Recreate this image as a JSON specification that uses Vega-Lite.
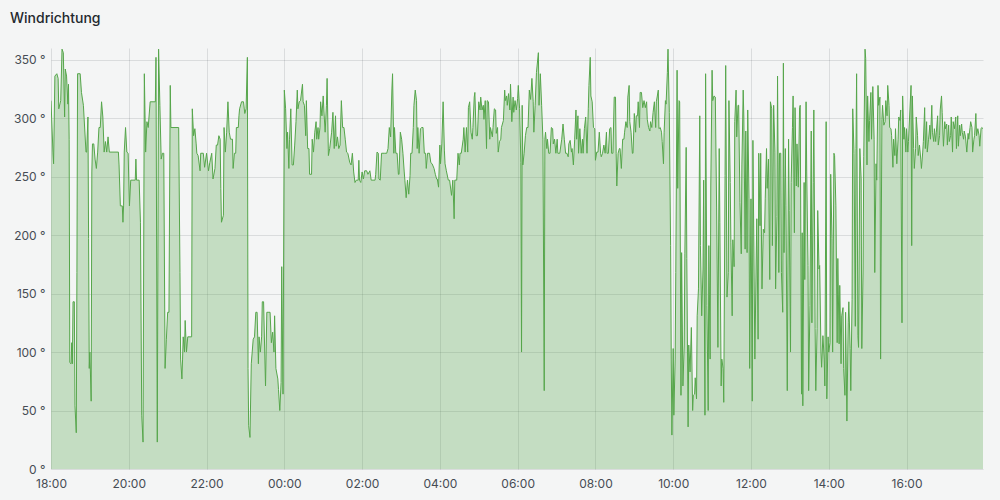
{
"$schema": "https://vega.github.io/schema/vega-lite/v6.json",
"width": 932, "height": 421,
"autosize": {"type": "none"},
"padding": {"left": 51, "top": 48, "right": 17, "bottom": 31},
"background": "#f4f5f5",
"title": {"text": "Windrichtung", "anchor": "start", "frame": "group", "dx": -41, "offset": 11, "baseline": "alphabetic", "fontSize": 14, "fontWeight": 500, "font": "Inter", "color": "#24292e"},
"config": {"view": {"stroke": null}, "font": "Inter",
  "axis": {"labelFont": "Inter", "labelFontSize": 12, "labelColor": "#464c54", "gridColor": "#24292e", "gridOpacity": 0.12, "ticks": false, "domain": false, "title": null}},
"data": {"format": {"parse": {"t": "utc:'%d %H:%M'"}}, "values": [
{"t":"1 18:00","v":315},{"t":"1 18:03","v":271},{"t":"1 18:04","v":261},{"t":"1 18:06","v":336},{"t":"1 18:09","v":338},{"t":"1 18:11","v":334},{"t":"1 18:12","v":308},{"t":"1 18:15","v":315},{"t":"1 18:17","v":359},{"t":"1 18:19","v":356},{"t":"1 18:21","v":301},{"t":"1 18:22","v":342},{"t":"1 18:24","v":336},{"t":"1 18:26","v":312},{"t":"1 18:27","v":329},{"t":"1 18:28","v":282},{"t":"1 18:29","v":91},{"t":"1 18:31","v":90},{"t":"1 18:32","v":108},{"t":"1 18:33","v":90},{"t":"1 18:34","v":143},{"t":"1 18:36","v":143},{"t":"1 18:37","v":54},{"t":"1 18:39","v":31},{"t":"1 18:40","v":168},{"t":"1 18:41","v":338},{"t":"1 18:45","v":338},{"t":"1 18:47","v":322},{"t":"1 18:50","v":311},{"t":"1 18:54","v":271},{"t":"1 18:55","v":271},{"t":"1 18:57","v":301},{"t":"1 18:58","v":197},{"t":"1 18:59","v":86},
{"t":"1 19:00","v":100},{"t":"1 19:02","v":58},{"t":"1 19:03","v":254},{"t":"1 19:04","v":278},{"t":"1 19:06","v":278},{"t":"1 19:08","v":265},{"t":"1 19:10","v":257},{"t":"1 19:12","v":271},{"t":"1 19:14","v":292},{"t":"1 19:16","v":292},{"t":"1 19:18","v":314},{"t":"1 19:20","v":301},{"t":"1 19:22","v":271},{"t":"1 19:24","v":280},{"t":"1 19:26","v":271},{"t":"1 19:28","v":284},{"t":"1 19:30","v":271},{"t":"1 19:44","v":271},{"t":"1 19:45","v":260},{"t":"1 19:47","v":225},{"t":"1 19:50","v":225},{"t":"1 19:51","v":211},{"t":"1 19:52","v":225},{"t":"1 19:53","v":271},{"t":"1 19:55","v":292},{"t":"1 19:57","v":271},{"t":"1 19:59","v":270},
{"t":"1 20:01","v":225},{"t":"1 20:03","v":247},{"t":"1 20:10","v":247},{"t":"1 20:11","v":265},{"t":"1 20:12","v":247},{"t":"1 20:16","v":247},{"t":"1 20:18","v":211},{"t":"1 20:20","v":46},{"t":"1 20:22","v":23},{"t":"1 20:24","v":338},{"t":"1 20:26","v":271},{"t":"1 20:28","v":297},{"t":"1 20:30","v":292},{"t":"1 20:33","v":314},{"t":"1 20:41","v":314},{"t":"1 20:42","v":352},{"t":"1 20:44","v":23},{"t":"1 20:46","v":359},{"t":"1 20:48","v":311},{"t":"1 20:50","v":265},{"t":"1 20:52","v":270},{"t":"1 20:54","v":270},{"t":"1 20:56","v":86},{"t":"1 20:58","v":111},
{"t":"1 21:00","v":134},{"t":"1 21:02","v":134},{"t":"1 21:04","v":328},{"t":"1 21:05","v":292},{"t":"1 21:17","v":292},{"t":"1 21:19","v":168},{"t":"1 21:20","v":94},{"t":"1 21:22","v":77},{"t":"1 21:23","v":94},{"t":"1 21:24","v":113},{"t":"1 21:26","v":100},{"t":"1 21:27","v":127},{"t":"1 21:29","v":100},{"t":"1 21:31","v":113},{"t":"1 21:37","v":113},{"t":"1 21:38","v":308},{"t":"1 21:40","v":285},{"t":"1 21:42","v":291},{"t":"1 21:44","v":278},{"t":"1 21:45","v":270},{"t":"1 21:47","v":268},{"t":"1 21:50","v":255},{"t":"1 21:51","v":270},{"t":"1 21:55","v":270},{"t":"1 21:57","v":258},
{"t":"1 22:00","v":270},{"t":"1 22:03","v":255},{"t":"1 22:05","v":262},{"t":"1 22:08","v":270},{"t":"1 22:10","v":248},{"t":"1 22:13","v":257},{"t":"1 22:15","v":277},{"t":"1 22:17","v":277},{"t":"1 22:19","v":285},{"t":"1 22:21","v":282},{"t":"1 22:22","v":240},{"t":"1 22:23","v":211},{"t":"1 22:26","v":217},{"t":"1 22:27","v":292},{"t":"1 22:29","v":271},{"t":"1 22:31","v":288},{"t":"1 22:33","v":314},{"t":"1 22:35","v":288},{"t":"1 22:37","v":282},{"t":"1 22:40","v":282},{"t":"1 22:41","v":257},{"t":"1 22:43","v":270},{"t":"1 22:45","v":270},{"t":"1 22:46","v":292},{"t":"1 22:49","v":292},{"t":"1 22:50","v":302},{"t":"1 22:51","v":308},{"t":"1 22:54","v":314},{"t":"1 22:57","v":314},{"t":"1 22:59","v":304},
{"t":"1 23:01","v":308},{"t":"1 23:03","v":352},{"t":"1 23:04","v":86},{"t":"1 23:05","v":37},{"t":"1 23:07","v":27},{"t":"1 23:09","v":90},{"t":"1 23:12","v":111},{"t":"1 23:14","v":113},{"t":"1 23:16","v":134},{"t":"1 23:18","v":134},{"t":"1 23:20","v":90},{"t":"1 23:21","v":113},{"t":"1 23:23","v":100},{"t":"1 23:25","v":113},{"t":"1 23:26","v":143},{"t":"1 23:28","v":143},{"t":"1 23:31","v":71},{"t":"1 23:33","v":134},{"t":"1 23:35","v":134},{"t":"1 23:38","v":134},{"t":"1 23:40","v":108},{"t":"1 23:42","v":117},{"t":"1 23:44","v":100},{"t":"1 23:45","v":131},{"t":"1 23:47","v":86},{"t":"1 23:50","v":77},{"t":"1 23:51","v":68},{"t":"1 23:53","v":50},{"t":"1 23:55","v":74},{"t":"1 23:56","v":173},{"t":"1 23:58","v":64},
{"t":"2 00:00","v":324},{"t":"2 00:02","v":308},{"t":"2 00:04","v":274},{"t":"2 00:05","v":288},{"t":"2 00:07","v":257},{"t":"2 00:08","v":282},{"t":"2 00:10","v":308},{"t":"2 00:12","v":260},{"t":"2 00:14","v":260},{"t":"2 00:16","v":277},{"t":"2 00:18","v":297},{"t":"2 00:20","v":324},{"t":"2 00:21","v":308},{"t":"2 00:23","v":314},{"t":"2 00:25","v":315},{"t":"2 00:28","v":329},{"t":"2 00:29","v":314},{"t":"2 00:31","v":311},{"t":"2 00:33","v":285},{"t":"2 00:34","v":315},{"t":"2 00:36","v":274},{"t":"2 00:38","v":274},{"t":"2 00:39","v":252},{"t":"2 00:42","v":252},{"t":"2 00:43","v":282},{"t":"2 00:45","v":271},{"t":"2 00:47","v":288},{"t":"2 00:49","v":297},{"t":"2 00:50","v":282},{"t":"2 00:52","v":292},{"t":"2 00:53","v":282},{"t":"2 00:55","v":292},{"t":"2 00:56","v":314},{"t":"2 00:58","v":302},
{"t":"2 01:00","v":319},{"t":"2 01:01","v":307},{"t":"2 01:03","v":288},{"t":"2 01:05","v":311},{"t":"2 01:06","v":334},{"t":"2 01:08","v":268},{"t":"2 01:10","v":274},{"t":"2 01:13","v":288},{"t":"2 01:15","v":305},{"t":"2 01:17","v":274},{"t":"2 01:19","v":302},{"t":"2 01:20","v":276},{"t":"2 01:22","v":284},{"t":"2 01:24","v":274},{"t":"2 01:26","v":277},{"t":"2 01:28","v":315},{"t":"2 01:30","v":292},{"t":"2 01:32","v":292},{"t":"2 01:34","v":282},{"t":"2 01:36","v":271},{"t":"2 01:38","v":270},{"t":"2 01:41","v":262},{"t":"2 01:43","v":260},{"t":"2 01:45","v":270},{"t":"2 01:47","v":254},{"t":"2 01:49","v":245},{"t":"2 01:51","v":247},{"t":"2 01:54","v":247},{"t":"2 01:55","v":264},{"t":"2 01:56","v":247},{"t":"2 01:58","v":245},
{"t":"2 02:00","v":254},{"t":"2 02:02","v":248},{"t":"2 02:04","v":255},{"t":"2 02:07","v":255},{"t":"2 02:09","v":252},{"t":"2 02:12","v":255},{"t":"2 02:14","v":247},{"t":"2 02:20","v":247},{"t":"2 02:21","v":252},{"t":"2 02:23","v":271},{"t":"2 02:25","v":270},{"t":"2 02:26","v":248},{"t":"2 02:28","v":247},{"t":"2 02:30","v":270},{"t":"2 02:35","v":270},{"t":"2 02:38","v":270},{"t":"2 02:40","v":274},{"t":"2 02:42","v":292},{"t":"2 02:44","v":284},{"t":"2 02:46","v":325},{"t":"2 02:47","v":338},{"t":"2 02:49","v":270},{"t":"2 02:50","v":292},{"t":"2 02:52","v":270},{"t":"2 02:54","v":270},{"t":"2 02:56","v":252},{"t":"2 02:57","v":252},{"t":"2 02:59","v":288},
{"t":"2 03:01","v":282},{"t":"2 03:03","v":270},{"t":"2 03:05","v":254},{"t":"2 03:06","v":247},{"t":"2 03:08","v":232},{"t":"2 03:10","v":247},{"t":"2 03:12","v":235},{"t":"2 03:14","v":251},{"t":"2 03:15","v":270},{"t":"2 03:17","v":270},{"t":"2 03:19","v":292},{"t":"2 03:20","v":311},{"t":"2 03:22","v":324},{"t":"2 03:24","v":315},{"t":"2 03:25","v":274},{"t":"2 03:26","v":292},{"t":"2 03:28","v":270},{"t":"2 03:30","v":291},{"t":"2 03:32","v":292},{"t":"2 03:34","v":292},{"t":"2 03:36","v":270},{"t":"2 03:38","v":270},{"t":"2 03:39","v":257},{"t":"2 03:41","v":270},{"t":"2 03:44","v":270},{"t":"2 03:46","v":262},{"t":"2 03:48","v":261},{"t":"2 03:51","v":257},{"t":"2 03:53","v":252},{"t":"2 03:55","v":248},{"t":"2 03:56","v":248},{"t":"2 03:58","v":241},
{"t":"2 04:00","v":277},{"t":"2 04:01","v":261},{"t":"2 04:03","v":278},{"t":"2 04:05","v":314},{"t":"2 04:07","v":272},{"t":"2 04:08","v":261},{"t":"2 04:10","v":255},{"t":"2 04:13","v":247},{"t":"2 04:15","v":247},{"t":"2 04:18","v":234},{"t":"2 04:20","v":247},{"t":"2 04:22","v":214},{"t":"2 04:23","v":247},{"t":"2 04:26","v":247},{"t":"2 04:28","v":270},{"t":"2 04:30","v":260},{"t":"2 04:31","v":270},{"t":"2 04:33","v":270},{"t":"2 04:36","v":282},{"t":"2 04:37","v":292},{"t":"2 04:39","v":271},{"t":"2 04:41","v":292},{"t":"2 04:43","v":271},{"t":"2 04:44","v":309},{"t":"2 04:46","v":314},{"t":"2 04:48","v":288},{"t":"2 04:50","v":282},{"t":"2 04:51","v":292},{"t":"2 04:53","v":318},{"t":"2 04:54","v":322},{"t":"2 04:56","v":285},{"t":"2 04:58","v":285},
{"t":"2 05:00","v":314},{"t":"2 05:02","v":307},{"t":"2 05:03","v":318},{"t":"2 05:05","v":307},{"t":"2 05:07","v":311},{"t":"2 05:08","v":299},{"t":"2 05:10","v":315},{"t":"2 05:12","v":274},{"t":"2 05:13","v":315},{"t":"2 05:15","v":314},{"t":"2 05:17","v":282},{"t":"2 05:18","v":292},{"t":"2 05:21","v":284},{"t":"2 05:22","v":292},{"t":"2 05:24","v":308},{"t":"2 05:26","v":307},{"t":"2 05:27","v":287},{"t":"2 05:29","v":292},{"t":"2 05:30","v":271},{"t":"2 05:32","v":280},{"t":"2 05:34","v":282},{"t":"2 05:35","v":292},{"t":"2 05:38","v":298},{"t":"2 05:40","v":324},{"t":"2 05:41","v":315},{"t":"2 05:43","v":319},{"t":"2 05:44","v":311},{"t":"2 05:46","v":321},{"t":"2 05:48","v":307},{"t":"2 05:49","v":329},{"t":"2 05:51","v":297},{"t":"2 05:53","v":318},{"t":"2 05:54","v":305},{"t":"2 05:56","v":315},{"t":"2 05:58","v":307},
{"t":"2 06:00","v":317},{"t":"2 06:01","v":328},{"t":"2 06:03","v":308},{"t":"2 06:05","v":262},{"t":"2 06:06","v":100},{"t":"2 06:07","v":311},{"t":"2 06:08","v":260},{"t":"2 06:10","v":270},{"t":"2 06:12","v":285},{"t":"2 06:14","v":292},{"t":"2 06:16","v":292},{"t":"2 06:18","v":324},{"t":"2 06:20","v":316},{"t":"2 06:22","v":334},{"t":"2 06:24","v":314},{"t":"2 06:25","v":288},{"t":"2 06:27","v":311},{"t":"2 06:29","v":339},{"t":"2 06:32","v":356},{"t":"2 06:33","v":311},{"t":"2 06:35","v":338},{"t":"2 06:37","v":311},{"t":"2 06:39","v":282},{"t":"2 06:41","v":67},{"t":"2 06:42","v":282},{"t":"2 06:43","v":288},{"t":"2 06:45","v":274},{"t":"2 06:46","v":282},{"t":"2 06:48","v":270},{"t":"2 06:50","v":270},{"t":"2 06:52","v":292},{"t":"2 06:54","v":291},{"t":"2 06:55","v":278},{"t":"2 06:57","v":282},{"t":"2 06:59","v":270},
{"t":"2 07:01","v":282},{"t":"2 07:02","v":270},{"t":"2 07:05","v":270},{"t":"2 07:08","v":282},{"t":"2 07:10","v":295},{"t":"2 07:12","v":282},{"t":"2 07:14","v":270},{"t":"2 07:16","v":270},{"t":"2 07:18","v":267},{"t":"2 07:19","v":278},{"t":"2 07:21","v":281},{"t":"2 07:23","v":271},{"t":"2 07:24","v":274},{"t":"2 07:26","v":260},{"t":"2 07:28","v":282},{"t":"2 07:30","v":307},{"t":"2 07:31","v":282},{"t":"2 07:33","v":302},{"t":"2 07:34","v":270},{"t":"2 07:36","v":291},{"t":"2 07:38","v":270},{"t":"2 07:40","v":282},{"t":"2 07:41","v":270},{"t":"2 07:43","v":291},{"t":"2 07:45","v":301},{"t":"2 07:47","v":270},{"t":"2 07:49","v":308},{"t":"2 07:50","v":328},{"t":"2 07:52","v":352},{"t":"2 07:53","v":319},{"t":"2 07:55","v":314},{"t":"2 07:57","v":292},{"t":"2 07:59","v":291},
{"t":"2 08:00","v":264},{"t":"2 08:02","v":271},{"t":"2 08:04","v":271},{"t":"2 08:06","v":288},{"t":"2 08:08","v":270},{"t":"2 08:09","v":267},{"t":"2 08:11","v":270},{"t":"2 08:13","v":277},{"t":"2 08:15","v":270},{"t":"2 08:17","v":288},{"t":"2 08:18","v":270},{"t":"2 08:20","v":270},{"t":"2 08:22","v":291},{"t":"2 08:24","v":292},{"t":"2 08:25","v":270},{"t":"2 08:27","v":270},{"t":"2 08:29","v":318},{"t":"2 08:31","v":318},{"t":"2 08:32","v":270},{"t":"2 08:33","v":242},{"t":"2 08:35","v":270},{"t":"2 08:37","v":274},{"t":"2 08:38","v":274},{"t":"2 08:40","v":257},{"t":"2 08:42","v":282},{"t":"2 08:44","v":282},{"t":"2 08:45","v":288},{"t":"2 08:47","v":297},{"t":"2 08:49","v":292},{"t":"2 08:50","v":318},{"t":"2 08:52","v":328},{"t":"2 08:53","v":297},{"t":"2 08:55","v":288},{"t":"2 08:57","v":270},{"t":"2 08:58","v":270},
{"t":"2 09:00","v":304},{"t":"2 09:02","v":288},{"t":"2 09:03","v":302},{"t":"2 09:05","v":302},{"t":"2 09:06","v":314},{"t":"2 09:08","v":292},{"t":"2 09:09","v":322},{"t":"2 09:11","v":322},{"t":"2 09:13","v":309},{"t":"2 09:15","v":315},{"t":"2 09:17","v":309},{"t":"2 09:19","v":314},{"t":"2 09:20","v":299},{"t":"2 09:22","v":292},{"t":"2 09:24","v":289},{"t":"2 09:25","v":297},{"t":"2 09:27","v":292},{"t":"2 09:29","v":305},{"t":"2 09:31","v":314},{"t":"2 09:33","v":292},{"t":"2 09:34","v":314},{"t":"2 09:37","v":324},{"t":"2 09:38","v":291},{"t":"2 09:40","v":292},{"t":"2 09:42","v":288},{"t":"2 09:43","v":280},{"t":"2 09:45","v":261},{"t":"2 09:46","v":288},{"t":"2 09:48","v":315},{"t":"2 09:49","v":312},{"t":"2 09:51","v":339},{"t":"2 09:52","v":359},{"t":"2 09:54","v":305},{"t":"2 09:56","v":191},{"t":"2 09:57","v":94},{"t":"2 09:58","v":29},
{"t":"2 10:00","v":103},{"t":"2 10:01","v":46},{"t":"2 10:03","v":94},{"t":"2 10:04","v":168},{"t":"2 10:06","v":341},{"t":"2 10:07","v":240},{"t":"2 10:09","v":315},{"t":"2 10:10","v":314},{"t":"2 10:12","v":63},{"t":"2 10:13","v":185},{"t":"2 10:15","v":71},{"t":"2 10:17","v":106},{"t":"2 10:18","v":184},{"t":"2 10:20","v":275},{"t":"2 10:21","v":180},{"t":"2 10:23","v":36},{"t":"2 10:24","v":106},{"t":"2 10:26","v":83},{"t":"2 10:28","v":121},{"t":"2 10:30","v":50},{"t":"2 10:31","v":63},{"t":"2 10:33","v":64},{"t":"2 10:34","v":78},{"t":"2 10:36","v":60},{"t":"2 10:37","v":131},{"t":"2 10:39","v":154},{"t":"2 10:41","v":302},{"t":"2 10:42","v":191},{"t":"2 10:44","v":131},{"t":"2 10:46","v":171},{"t":"2 10:47","v":247},{"t":"2 10:49","v":46},{"t":"2 10:50","v":338},{"t":"2 10:52","v":140},{"t":"2 10:54","v":50},{"t":"2 10:55","v":191},{"t":"2 10:57","v":94},{"t":"2 10:58","v":242},
{"t":"2 11:00","v":341},{"t":"2 11:01","v":315},{"t":"2 11:03","v":319},{"t":"2 11:05","v":318},{"t":"2 11:07","v":224},{"t":"2 11:09","v":104},{"t":"2 11:11","v":274},{"t":"2 11:12","v":211},{"t":"2 11:14","v":71},{"t":"2 11:15","v":94},{"t":"2 11:17","v":86},{"t":"2 11:18","v":57},{"t":"2 11:20","v":251},{"t":"2 11:21","v":345},{"t":"2 11:23","v":147},{"t":"2 11:25","v":168},{"t":"2 11:26","v":315},{"t":"2 11:28","v":245},{"t":"2 11:29","v":194},{"t":"2 11:31","v":131},{"t":"2 11:32","v":196},{"t":"2 11:34","v":173},{"t":"2 11:35","v":297},{"t":"2 11:37","v":324},{"t":"2 11:38","v":284},{"t":"2 11:40","v":311},{"t":"2 11:41","v":311},{"t":"2 11:43","v":228},{"t":"2 11:45","v":184},{"t":"2 11:46","v":260},{"t":"2 11:48","v":324},{"t":"2 11:49","v":301},{"t":"2 11:51","v":188},{"t":"2 11:52","v":289},{"t":"2 11:54","v":185},{"t":"2 11:55","v":307},{"t":"2 11:57","v":231},{"t":"2 11:58","v":86},
{"t":"2 12:00","v":231},{"t":"2 12:02","v":58},{"t":"2 12:03","v":281},{"t":"2 12:06","v":94},{"t":"2 12:08","v":177},{"t":"2 12:09","v":214},{"t":"2 12:11","v":111},{"t":"2 12:12","v":270},{"t":"2 12:14","v":208},{"t":"2 12:15","v":270},{"t":"2 12:17","v":154},{"t":"2 12:19","v":205},{"t":"2 12:21","v":202},{"t":"2 12:22","v":231},{"t":"2 12:24","v":274},{"t":"2 12:25","v":240},{"t":"2 12:27","v":265},{"t":"2 12:29","v":162},{"t":"2 12:30","v":314},{"t":"2 12:32","v":308},{"t":"2 12:33","v":191},{"t":"2 12:35","v":311},{"t":"2 12:37","v":271},{"t":"2 12:38","v":154},{"t":"2 12:40","v":216},{"t":"2 12:41","v":336},{"t":"2 12:43","v":168},{"t":"2 12:44","v":270},{"t":"2 12:46","v":270},{"t":"2 12:47","v":168},{"t":"2 12:49","v":134},{"t":"2 12:50","v":347},{"t":"2 12:51","v":185},{"t":"2 12:53","v":274},{"t":"2 12:54","v":225},{"t":"2 12:56","v":67},{"t":"2 12:58","v":282},{"t":"2 12:59","v":221},
{"t":"2 13:01","v":100},{"t":"2 13:02","v":245},{"t":"2 13:04","v":292},{"t":"2 13:05","v":319},{"t":"2 13:07","v":202},{"t":"2 13:08","v":309},{"t":"2 13:10","v":242},{"t":"2 13:11","v":278},{"t":"2 13:13","v":241},{"t":"2 13:15","v":309},{"t":"2 13:16","v":311},{"t":"2 13:18","v":64},{"t":"2 13:19","v":202},{"t":"2 13:20","v":54},{"t":"2 13:22","v":245},{"t":"2 13:23","v":162},{"t":"2 13:25","v":314},{"t":"2 13:26","v":254},{"t":"2 13:28","v":174},{"t":"2 13:29","v":67},{"t":"2 13:31","v":140},{"t":"2 13:33","v":289},{"t":"2 13:34","v":125},{"t":"2 13:36","v":245},{"t":"2 13:37","v":307},{"t":"2 13:39","v":120},{"t":"2 13:40","v":67},{"t":"2 13:42","v":120},{"t":"2 13:43","v":221},{"t":"2 13:45","v":171},{"t":"2 13:46","v":174},{"t":"2 13:48","v":100},{"t":"2 13:49","v":87},{"t":"2 13:51","v":114},{"t":"2 13:53","v":94},{"t":"2 13:54","v":71},{"t":"2 13:56","v":297},{"t":"2 13:57","v":60},{"t":"2 13:59","v":113},
{"t":"2 14:00","v":100},{"t":"2 14:02","v":108},{"t":"2 14:03","v":252},{"t":"2 14:05","v":197},{"t":"2 14:06","v":100},{"t":"2 14:08","v":270},{"t":"2 14:09","v":268},{"t":"2 14:11","v":225},{"t":"2 14:13","v":108},{"t":"2 14:14","v":180},{"t":"2 14:16","v":107},{"t":"2 14:17","v":157},{"t":"2 14:19","v":90},{"t":"2 14:20","v":131},{"t":"2 14:22","v":138},{"t":"2 14:23","v":86},{"t":"2 14:25","v":63},{"t":"2 14:26","v":134},{"t":"2 14:28","v":41},{"t":"2 14:30","v":125},{"t":"2 14:31","v":143},{"t":"2 14:33","v":103},{"t":"2 14:34","v":67},{"t":"2 14:36","v":145},{"t":"2 14:37","v":308},{"t":"2 14:39","v":270},{"t":"2 14:41","v":122},{"t":"2 14:42","v":274},{"t":"2 14:43","v":338},{"t":"2 14:45","v":114},{"t":"2 14:46","v":104},{"t":"2 14:48","v":274},{"t":"2 14:50","v":248},{"t":"2 14:51","v":103},{"t":"2 14:53","v":171},{"t":"2 14:54","v":267},{"t":"2 14:56","v":359},{"t":"2 14:57","v":351},{"t":"2 14:59","v":260},
{"t":"2 15:00","v":319},{"t":"2 15:02","v":280},{"t":"2 15:03","v":298},{"t":"2 15:05","v":322},{"t":"2 15:06","v":282},{"t":"2 15:08","v":327},{"t":"2 15:10","v":282},{"t":"2 15:11","v":168},{"t":"2 15:13","v":261},{"t":"2 15:14","v":247},{"t":"2 15:16","v":328},{"t":"2 15:17","v":311},{"t":"2 15:19","v":318},{"t":"2 15:20","v":94},{"t":"2 15:22","v":299},{"t":"2 15:23","v":311},{"t":"2 15:25","v":294},{"t":"2 15:27","v":297},{"t":"2 15:28","v":315},{"t":"2 15:30","v":302},{"t":"2 15:31","v":328},{"t":"2 15:33","v":311},{"t":"2 15:34","v":292},{"t":"2 15:36","v":291},{"t":"2 15:37","v":285},{"t":"2 15:39","v":258},{"t":"2 15:40","v":282},{"t":"2 15:42","v":268},{"t":"2 15:43","v":291},{"t":"2 15:45","v":261},{"t":"2 15:47","v":282},{"t":"2 15:48","v":301},{"t":"2 15:50","v":298},{"t":"2 15:51","v":307},{"t":"2 15:53","v":125},{"t":"2 15:54","v":319},{"t":"2 15:56","v":282},{"t":"2 15:57","v":292},{"t":"2 15:59","v":271},
{"t":"2 16:00","v":291},{"t":"2 16:02","v":271},{"t":"2 16:03","v":280},{"t":"2 16:07","v":328},{"t":"2 16:08","v":191},{"t":"2 16:09","v":319},{"t":"2 16:11","v":274},{"t":"2 16:12","v":257},{"t":"2 16:14","v":274},{"t":"2 16:15","v":301},{"t":"2 16:17","v":285},{"t":"2 16:18","v":268},{"t":"2 16:20","v":277},{"t":"2 16:22","v":265},{"t":"2 16:23","v":257},{"t":"2 16:25","v":271},{"t":"2 16:26","v":280},{"t":"2 16:28","v":309},{"t":"2 16:29","v":274},{"t":"2 16:31","v":297},{"t":"2 16:32","v":271},{"t":"2 16:34","v":282},{"t":"2 16:36","v":294},{"t":"2 16:37","v":282},{"t":"2 16:39","v":311},{"t":"2 16:40","v":288},{"t":"2 16:42","v":280},{"t":"2 16:43","v":291},{"t":"2 16:45","v":280},{"t":"2 16:46","v":288},{"t":"2 16:48","v":302},{"t":"2 16:49","v":277},{"t":"2 16:51","v":285},{"t":"2 16:52","v":307},{"t":"2 16:54","v":319},{"t":"2 16:55","v":305},{"t":"2 16:57","v":276},{"t":"2 16:59","v":297},
{"t":"2 17:00","v":291},{"t":"2 17:02","v":295},{"t":"2 17:03","v":277},{"t":"2 17:05","v":294},{"t":"2 17:06","v":280},{"t":"2 17:08","v":285},{"t":"2 17:09","v":301},{"t":"2 17:11","v":271},{"t":"2 17:12","v":297},{"t":"2 17:14","v":291},{"t":"2 17:16","v":301},{"t":"2 17:17","v":274},{"t":"2 17:19","v":302},{"t":"2 17:20","v":276},{"t":"2 17:22","v":294},{"t":"2 17:23","v":285},{"t":"2 17:25","v":295},{"t":"2 17:26","v":288},{"t":"2 17:28","v":282},{"t":"2 17:29","v":289},{"t":"2 17:31","v":284},{"t":"2 17:33","v":271},{"t":"2 17:35","v":287},{"t":"2 17:36","v":282},{"t":"2 17:38","v":292},{"t":"2 17:39","v":297},{"t":"2 17:41","v":292},{"t":"2 17:42","v":271},{"t":"2 17:44","v":282},{"t":"2 17:45","v":285},{"t":"2 17:47","v":304},{"t":"2 17:48","v":285},{"t":"2 17:50","v":291},{"t":"2 17:52","v":285},{"t":"2 17:53","v":276},{"t":"2 17:55","v":291},{"t":"2 17:56","v":292},{"t":"2 17:58","v":291}
]},
"mark": {"type": "area", "fill": "#56A64B", "fillOpacity": 0.3, "clip": true, "line": {"color": "#56A64B", "strokeWidth": 1}},
"encoding": {
  "x": {"field": "t", "type": "temporal",
    "scale": {"type": "utc"},
    "axis": {"format": "%H:%M", "values": [
      {"year": 1900, "month": 1, "date": 1, "hours": 18, "utc": true},
      {"year": 1900, "month": 1, "date": 1, "hours": 20, "utc": true},
      {"year": 1900, "month": 1, "date": 1, "hours": 22, "utc": true},
      {"year": 1900, "month": 1, "date": 2, "hours": 0, "utc": true},
      {"year": 1900, "month": 1, "date": 2, "hours": 2, "utc": true},
      {"year": 1900, "month": 1, "date": 2, "hours": 4, "utc": true},
      {"year": 1900, "month": 1, "date": 2, "hours": 6, "utc": true},
      {"year": 1900, "month": 1, "date": 2, "hours": 8, "utc": true},
      {"year": 1900, "month": 1, "date": 2, "hours": 10, "utc": true},
      {"year": 1900, "month": 1, "date": 2, "hours": 12, "utc": true},
      {"year": 1900, "month": 1, "date": 2, "hours": 14, "utc": true},
      {"year": 1900, "month": 1, "date": 2, "hours": 16, "utc": true}],
      "grid": true, "labelPadding": 9, "labelFlush": false}},
  "y": {"field": "v", "type": "quantitative",
    "scale": {"domain": [0, 360], "nice": false},
    "axis": {"values": [0, 50, 100, 150, 200, 250, 300, 350], "labelExpr": "datum.value + ' °'", "grid": true, "labelPadding": 6}}
}
}
